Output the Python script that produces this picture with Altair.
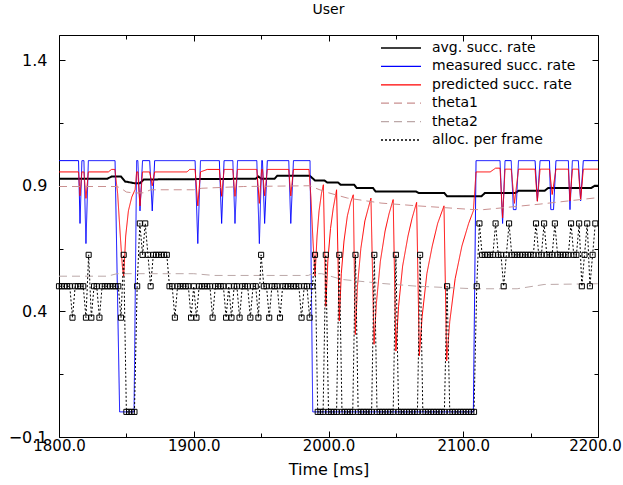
import altair as alt
import pandas as pd

# ---------------- data ----------------
SERIES = ["avg. succ. rate", "measured succ. rate", "predicted succ. rate",
          "theta1", "theta2", "alloc. per frame"]

avg_t = [1800, 1836, 1839, 1846, 1849, 1856, 1860, 1863, 1946, 1948, 1950, 1960, 1962,
         1986, 1990, 1997, 1999, 2007, 2009, 2019, 2021, 2033, 2035, 2065, 2067, 2086,
         2088, 2113.5, 2116, 2138.6, 2141, 2160.4, 2163, 2195, 2197.5, 2200]
avg_v = [0.928, 0.928, 0.937, 0.937, 0.917, 0.91, 0.91, 0.925, 0.928, 0.937, 0.928, 0.928, 0.94,
         0.94, 0.921, 0.921, 0.913, 0.913, 0.904, 0.904, 0.891, 0.891, 0.877, 0.877, 0.871, 0.871,
         0.858, 0.858, 0.871, 0.871, 0.88, 0.88, 0.891, 0.891, 0.9, 0.9]

meas_t = [1800, 1814.5, 1815.6, 1817, 1818.5, 1820, 1821.8, 1841.6, 1845, 1855.7, 1857.6,
          1858.5, 1860.1, 1862, 1867.3, 1869.2, 1871, 1901, 1903, 1905, 1919, 1920.7, 1922.5,
          1929, 1930.6, 1932.5, 1946.8, 1948.7, 1950.4, 1951, 1952.6, 1954.6, 1970.5, 1972,
          1974, 1986.3, 1988.3, 2107.5, 2109.5, 2127.3, 2129.2, 2131, 2135.6, 2137.2, 2139.2,
          2141, 2153.3, 2155, 2157, 2164, 2165, 2167, 2168.8, 2178, 2179.2, 2181, 2185.4,
          2187.1, 2189.1, 2200]
meas_v = [1, 1, 0.75, 1, 1, 0.67, 1, 1, 0, 0, 1,
          1, 0.8, 1, 1, 0.8, 1, 1, 0.67, 1, 1, 0.75, 1,
          1, 0.75, 1, 1, 0.67, 1, 1, 0.75, 1, 1, 0.75,
          1, 1, 0, 0, 1, 1, 0.75, 1, 1, 0.805, 0.805,
          1, 1, 0.84, 1, 1, 0.805, 0.805, 1, 1, 0.805, 1, 1,
          0.84, 1, 1]

pred_t = [1800, 1814.5, 1815.6, 1817, 1818.5, 1820, 1821.8, 1836.6, 1839, 1841.5, 1843.5,
          1845.5, 1847, 1848, 1849.5, 1851.5, 1854, 1856.5, 1857.6, 1858.5, 1860.1, 1862,
          1867.3, 1869.2, 1871, 1895, 1897, 1901, 1903, 1905, 1910, 1919, 1920.7, 1922.5,
          1929, 1930.6, 1932.5, 1946.8, 1948.7, 1950.4, 1951, 1952.6, 1954.6, 1970.5, 1972,
          1974, 1985.5, 1987, 1988.5, 1990, 1991.5, 1993, 1994.8, 1996.2,
          1998, 1999.5, 2001.5, 2003.5, 2006,
          2008, 2009.5, 2011.5, 2014, 2016.5, 2018.4,
          2019.9, 2021.5, 2024, 2027, 2031.5,
          2033.8, 2035.5, 2038.5, 2042, 2045, 2048,
          2050, 2052, 2055, 2059, 2062, 2065.4,
          2067.4, 2069.5, 2073, 2077, 2081, 2085.7,
          2087.7, 2090, 2094, 2099, 2104, 2107.5, 2109.5,
          2120, 2124, 2127.3, 2129.2, 2131, 2135.6, 2138, 2141, 2153.3, 2155, 2157, 2164,
          2166, 2168.8, 2178, 2179.2, 2181, 2185.4, 2187.1, 2189.1, 2200]
pred_v = [0.955, 0.955, 0.86, 0.955, 0.955, 0.85, 0.955, 0.955, 0.965, 0.965, 0.87,
          0.7, 0.58, 0.54, 0.7, 0.8, 0.855, 0.885, 0.955, 0.955, 0.82, 0.955,
          0.955, 0.9, 0.955, 0.955, 0.965, 0.965, 0.82, 0.955, 0.965, 0.965, 0.858, 0.965,
          0.965, 0.858, 0.965, 0.965, 0.83, 0.965, 0.965, 0.86, 0.965, 0.965, 0.86,
          0.965, 0.965, 0.85, 0.68, 0.54, 0.7, 0.8, 0.87, 0.904,
          0.42, 0.6, 0.73, 0.81, 0.884,
          0.362, 0.55, 0.68, 0.78, 0.835, 0.864,
          0.308, 0.5, 0.65, 0.76, 0.851,
          0.269, 0.43, 0.6, 0.72, 0.79, 0.845,
          0.242, 0.42, 0.58, 0.7, 0.77, 0.834,
          0.223, 0.38, 0.55, 0.66, 0.75, 0.82,
          0.203, 0.36, 0.53, 0.66, 0.75, 0.8, 0.955,
          0.955, 0.97, 0.97, 0.772, 0.966, 0.966, 0.83, 0.966, 0.966, 0.838, 0.966, 0.966,
          0.865, 0.966, 0.966, 0.84, 0.966, 0.966, 0.845, 0.966, 0.966]

th1_t = [1800, 1843, 1846, 1850, 1856, 1863, 1868, 1900, 1906, 1937, 1986, 1993, 2000,
         2014, 2039, 2066, 2108, 2115, 2125, 2157, 2197, 2200]
th1_v = [0.897, 0.897, 0.89, 0.875, 0.871, 0.872, 0.884, 0.884, 0.89, 0.897, 0.9, 0.885, 0.872,
         0.851, 0.831, 0.82, 0.805, 0.805, 0.81, 0.827, 0.851, 0.851]

th2_t = [1800, 1836, 1843, 1900, 1915, 1985, 1988, 1995, 2010, 2040, 2066, 2108, 2140, 2160, 2200]
th2_v = [0.54, 0.54, 0.55, 0.55, 0.543, 0.543, 0.55, 0.55, 0.527, 0.511, 0.5, 0.49, 0.49, 0.507, 0.51]

# allocation per frame (one frame every 2 ms): levels that hold from a time on,
# plus single-frame deviations
frame_first, frame_last, frame_step = 1800, 2198, 2
alloc_level_t = [1800, 1846, 1848, 1850, 1858, 1860, 1862, 1864, 1866, 1868, 1870, 1882,
                 1990, 1992, 2110, 2112, 2114]
alloc_level_v = [0.5, 0.375, 0.625, 0.0, 0.5, 0.75, 0.625, 0.75, 0.625, 0.5, 0.625, 0.5,
                 0.625, 0.0, 0.5, 0.75, 0.625]
alloc_spike_t = [1810, 1820, 1822, 1824, 1830, 1886, 1898, 1902, 1914, 1924, 1928, 1934,
                 1942, 1948, 1950, 1956, 1964, 1980, 1986,
                 1998, 2008, 2020, 2034, 2050, 2068, 2088,
                 2124, 2130, 2134, 2154, 2160, 2168, 2180, 2186, 2188, 2192, 2194, 2198]
alloc_spike_v = [0.375, 0.375, 0.625, 0.375, 0.375, 0.375, 0.375, 0.375, 0.375, 0.375, 0.375, 0.375,
                 0.375, 0.375, 0.625, 0.375, 0.375, 0.375, 0.375,
                 0.625, 0.625, 0.625, 0.625, 0.625, 0.625, 0.5,
                 0.75, 0.5, 0.75, 0.75, 0.75, 0.75, 0.75, 0.75, 0.5, 0.75, 0.5, 0.75]

# ---------------- build table ----------------
rows = []
def add(name, ts, vs):
    for t, v in zip(ts, vs):
        rows.append({"series": name, "t": t, "v": v})

add(SERIES[0], avg_t, avg_v)
add(SERIES[1], meas_t, meas_v)
add(SERIES[2], pred_t, pred_v)
add(SERIES[3], th1_t, th1_v)
add(SERIES[4], th2_t, th2_v)

spikes = dict(zip(alloc_spike_t, alloc_spike_v))
alloc_t, alloc_v = [], []
for t in range(frame_first, frame_last + 1, frame_step):
    level = alloc_level_v[0]
    for lt, lv in zip(alloc_level_t, alloc_level_v):
        if lt <= t:
            level = lv
    alloc_t.append(t)
    alloc_v.append(spikes.get(t, level))
add(SERIES[5], alloc_t, alloc_v)

df = pd.DataFrame(rows)

# ---------------- chart ----------------
FONT = "DejaVu Sans"
W, H = 539, 402
COLORS = ["#000000", "#0000ff", "#ff0000", "#c99090", "#bca8a8", "#000000"]
DASHES = [[1, 0], [1, 0], [1, 0], [8, 5], [8, 5], [2, 2]]

xs = alt.Scale(domain=[1800, 2200], nice=False, zero=False)
ys = alt.Scale(domain=[-0.1, 1.5], nice=False, zero=False)
cs = alt.Scale(domain=SERIES, range=COLORS)
ds = alt.Scale(domain=SERIES, range=DASHES)

legend = alt.Legend(
    title=None, orient="none", legendX=335, legendY=6, direction="vertical",
    symbolType="M-4,0H4", symbolSize=100, symbolStrokeWidth=1.3,
    labelFont=FONT, labelFontSize=14, labelColor="black", labelOffset=24,
    rowPadding=4.4, padding=0,
)

x_tick_vals = list(range(1800, 2201, 50))
y_tick_vals = [-0.1, 0.15, 0.4, 0.65, 0.9, 1.15, 1.4]
x_major = "datum.value % 100 === 0"
y_major = "round((datum.value + 0.1) * 4) % 2 === 0"

def tick_axis(values, orient, offset, test):
    return alt.Axis(values=values, orient=orient, offset=offset, labels=False, ticks=True,
                    domain=False, grid=False, title=None, tickColor="black", tickWidth=1,
                    tickSize={"condition": {"test": test, "value": 6}, "value": 4})

label_x = alt.Axis(values=[1800, 1900, 2000, 2100, 2200], format=".1f", ticks=False, tickSize=0,
                   domain=False, grid=False, labelPadding=1, labelFlush=False, labelFont=FONT,
                   labelFontSize=15, labelColor="black",
                   labelOffset={"condition": {"test": "datum.value === 2200", "value": -3},
                                "value": 0},
                   title="Time [ms]", titleFont=FONT,
                   titleFontSize=16, titleFontWeight="normal", titleColor="black", titlePadding=8)
label_y = alt.Axis(values=[-0.1, 0.4, 0.9, 1.4], format=".1f", ticks=False, tickSize=0,
                   domain=False, grid=False, labelPadding=12, labelFlush=False, labelFont=FONT,
                   labelFontSize=16, labelColor="black", title=None)

def line_layer(name, width, xaxis, yaxis):
    return alt.Chart(df).transform_filter(alt.datum.series == name).mark_line(
        strokeWidth=width, interpolate="linear"
    ).encode(
        x=alt.X("t:Q", scale=xs, axis=xaxis),
        y=alt.Y("v:Q", scale=ys, axis=yaxis),
        color=alt.Color("series:N", scale=cs, legend=legend),
        strokeDash=alt.StrokeDash("series:N", scale=ds, legend=legend),
    )

layers = [
    line_layer(SERIES[0], 2, label_x, label_y),
    line_layer(SERIES[1], 1, tick_axis(x_tick_vals, "top", -H, x_major),
               tick_axis(y_tick_vals, "right", -W, y_major)),
    line_layer(SERIES[2], 1, tick_axis(x_tick_vals, "bottom", -H, x_major),
               tick_axis(y_tick_vals, "left", -W, y_major)),
    line_layer(SERIES[3], 1, None, None),
    line_layer(SERIES[4], 1, None, None),
    line_layer(SERIES[5], 1, None, None),
    alt.Chart(df).transform_filter(alt.datum.series == SERIES[5]).mark_point(
        shape="square", filled=False, size=26, strokeWidth=1, color="black", opacity=1
    ).encode(
        x=alt.X("t:Q", scale=xs, axis=None),
        y=alt.Y("v:Q", scale=ys, axis=None),
    ),
]

chart = alt.layer(*layers).resolve_axis(x="independent", y="independent").properties(
    width=W, height=H,
    title=alt.Title("User", font=FONT, fontSize=14, fontWeight="normal", color="black",
                    anchor="middle", offset=18),
    autosize=alt.AutoSizeParams(type="none"),
    padding={"left": 59, "top": 35, "right": 25, "bottom": 48},
    background="white",
).configure_view(stroke="black", strokeWidth=1)

chart.save("out.html", embed_options={"renderer": "svg", "actions": False})
